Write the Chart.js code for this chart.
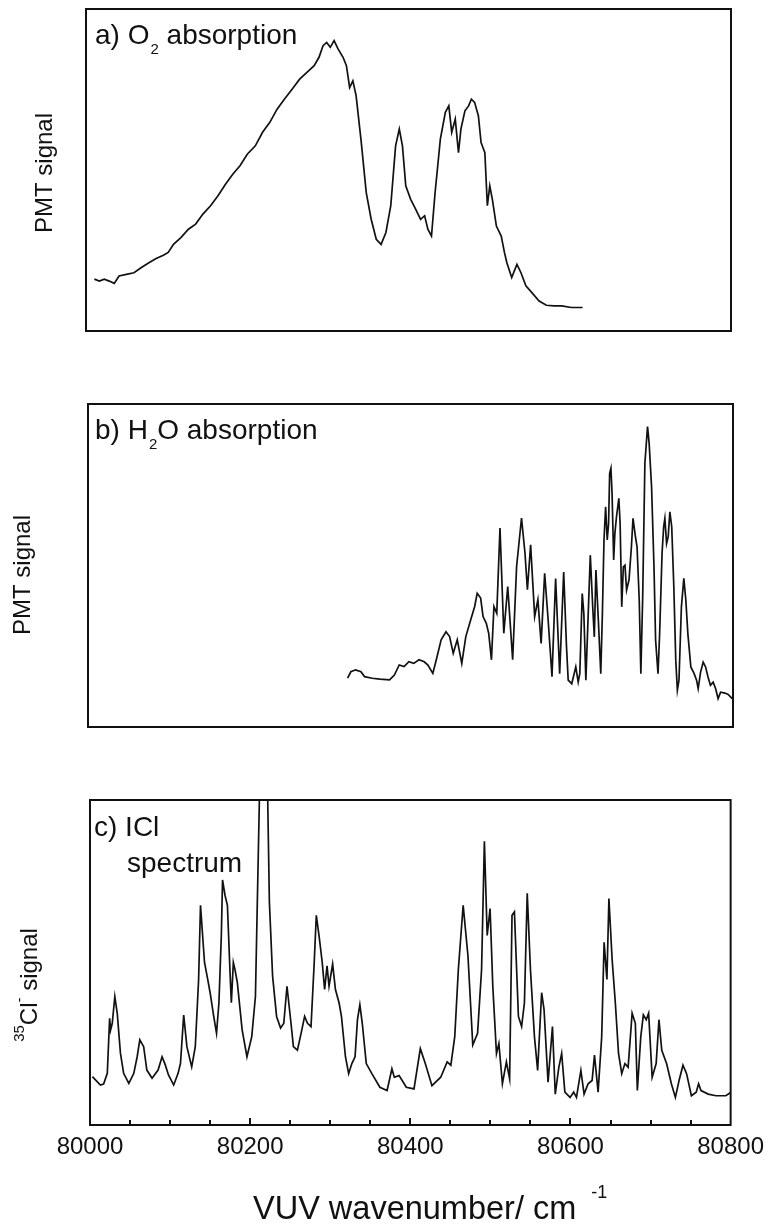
<!DOCTYPE html>
<html>
<head>
<meta charset="utf-8">
<script src="https://cdn.jsdelivr.net/npm/chart.js@4.4.1/dist/chart.umd.min.js"></script>
<style>
  html, body { margin: 0; padding: 0; background: #ffffff; }
  #wrap { position: relative; width: 772px; height: 1229px; overflow: hidden; background: #fff; }
  canvas { position: absolute; left: 0; }
</style>
</head>
<body>
<div id="wrap">
  <canvas id="ca" width="772" height="345" style="top:0px"></canvas>
  <canvas id="cb" width="772" height="360" style="top:380px"></canvas>
  <canvas id="cc" width="772" height="449" style="top:780px"></canvas>
</div>
<script>
// ---------------- data ----------------
const xMin = 80000;
const xMax = 80800;
const xTickValues = [80000, 80200, 80400, 80600, 80800];
const minorTickValues = [80050, 80100, 80150, 80200, 80250, 80300, 80350, 80400, 80450, 80500,
                         80550, 80600, 80650, 80700, 80750];

// a) O2 absorption
const o2X = [80010.4, 80016.6, 80022.7, 80028.8, 80035, 80041, 80050, 80059.5, 80068.7, 80078,
  80087, 80096, 80102, 80108.5, 80117.7, 80127, 80136, 80145, 80154.5, 80163.7,
  80173, 80182, 80191, 80200, 80210, 80219, 80228, 80237, 80246, 80255.6,
  80265, 80274, 80283, 80289, 80294, 80298.5, 80303, 80307.7, 80312.6, 80318.8,
  80323, 80327, 80331, 80335, 80341, 80347.6, 80353.7, 80360, 80366, 80372,
  80378, 80384, 80388.6, 80392.5, 80396.6, 80402.7, 80409, 80415, 80420, 80424,
  80428.5, 80433, 80439.5, 80445.7, 80450, 80453.6, 80458, 80462, 80465, 80470,
  80474.5, 80478, 80482, 80486.7, 80490, 80494.7, 80497.8, 80500.8, 80504, 80509,
  80515, 80519, 80522, 80528, 80534.5, 80539.5, 80545.6, 80553, 80562, 80571,
  80580.5, 80590, 80602, 80616];
const o2Y = [16.1, 15.5, 16.1, 15.5, 14.8, 17.1, 17.6, 18.1, 19.7, 21.2,
  22.5, 23.5, 24.4, 26.9, 29, 31.6, 33.2, 36.3, 38.9, 42,
  45.6, 48.7, 51.3, 54.9, 57.5, 61.7, 64.8, 68.9, 72, 75.1,
  78.2, 80.3, 82.4, 85, 88.6, 89.6, 88.1, 90.2, 87.6, 85,
  82.4, 75.6, 77.7, 73.1, 59.6, 43, 34.7, 28.5, 26.9, 30.6,
  38.9, 57.5, 62.7, 57.5, 45.1, 40.9, 37.8, 34.7, 35.8, 31.6,
  29.5, 43, 59.6, 67.9, 69.9, 61.7, 65.8, 55.4, 62.7, 68.4,
  69.9, 72, 71, 66.8, 58.5, 55.4, 38.9, 45.1, 40.9, 32.6,
  29.5, 24.4, 21.2, 16.6, 20.7, 18.1, 14, 11.9, 9.3, 8,
  7.8, 7.8, 7.3, 7.3];

// b) H2O absorption
const h2oX = [80322, 80326, 80332, 80338.5, 80343, 80352.5, 80362, 80374, 80380, 80386,
  80392, 80398, 80404, 80410.6, 80417, 80421.6, 80427.7, 80432, 80438, 80444,
  80448.5, 80453, 80458, 80463.6, 80468.6, 80474.7, 80479.6, 80482.7, 80487, 80490,
  80494, 80497, 80500.4, 80503.5, 80507, 80511, 80515.7, 80520.6, 80526.7, 80531.6,
  80537.7, 80542, 80545, 80549, 80554, 80558, 80562, 80566.4, 80570.7, 80575.5,
  80580, 80585, 80590, 80593.5, 80595.6, 80600, 80605, 80608, 80610, 80613,
  80615, 80617.5, 80620, 80623, 80626, 80628, 80630, 80633, 80636, 80638,
  80640, 80642, 80644, 80645.7, 80647, 80648.6, 80650, 80652, 80653.5, 80655.5,
  80658.4, 80660, 80662, 80664, 80666, 80668, 80671, 80674, 80676, 80679,
  80681, 80683.7, 80685.7, 80688, 80690.7, 80694, 80696, 80699, 80702, 80704,
  80707, 80709, 80712, 80714, 80715.5, 80717.6, 80719.6, 80721.7, 80724, 80726.6,
  80729, 80731, 80733, 80736, 80739, 80741.5, 80744, 80747.7, 80751.8, 80754.8,
  80756.8, 80759.8, 80763, 80766, 80769, 80772, 80775.4, 80778.4, 80781.5, 80784.6,
  80790, 80794, 80799];
const h2oY = [15.1, 17.1, 17.7, 17.1, 15.6, 15.1, 14.8, 14.6, 16.1, 19.2,
  18.7, 20.2, 19.7, 20.8, 20.2, 19.2, 16.6, 20.8, 27, 29.5,
  28, 22.8, 27, 19.7, 28, 33.2, 37.3, 41.4, 39.9, 34.2,
  32.1, 29, 20.8, 37.3, 35.2, 61.6, 29, 43.5, 20.8, 49.7,
  64.7, 53.8, 42.5, 56.4, 34.2, 39.4, 25.9, 47.6, 33.2, 15.6,
  46, 16.5, 48, 24.8, 14.5, 13.4, 18.6, 13.9, 16.6, 41.3,
  35.1, 14.5, 32, 53.2, 37.2, 27.9, 48.6, 33, 16.5, 35.1,
  57.9, 68.2, 57.9, 63, 78.5, 80.1, 72.3, 51.7, 59.9, 65.1,
  70.8, 63, 37.2, 49.6, 50.1, 42.4, 45.5, 55.8, 64.6, 58.9,
  55.8, 39.3, 16.5, 40.3, 81.6, 93, 87.8, 74.4, 49.6, 26.9,
  16.5, 28.9, 53.7, 62, 64.6, 56.8, 58.9, 66.6, 62, 43.4,
  20.7, 11.4, 14.5, 37.2, 46, 39.3, 28.9, 18.6, 16.5, 14.5,
  11.9, 17, 20.1, 18.6, 15.5, 12.9, 13.9, 11.9, 8.8, 10.8,
  10.5, 10.1, 8.8];

// c) ICl spectrum (35Cl- signal)
const iclX = [80003, 80013, 80017, 80021.6, 80024.5, 80025.7, 80027.8, 80031, 80034, 80038,
  80042, 80048.5, 80054.7, 80058.9, 80062.2, 80067, 80071, 80077.5, 80085, 80090,
  80094, 80098, 80104.5, 80110, 80113, 80117, 80121, 80127, 80131.5, 80135.6,
  80138, 80143, 80147, 80150, 80154.5, 80158, 80161, 80164, 80165.5, 80168.6,
  80171.6, 80174.7, 80176.5, 80179, 80181, 80184, 80190, 80196, 80202, 80206.6,
  80211.5, 80213, 80220, 80222, 80224, 80228, 80233, 80238, 80242, 80246,
  80251, 80254, 80259, 80263.6, 80268, 80271.6, 80276, 80280, 80282.6, 80286,
  80290, 80293, 80296, 80298.5, 80303, 80306.5, 80311, 80314, 80319, 80323,
  80327, 80331, 80334, 80337, 80340, 80345, 80352, 80362, 80371, 80377,
  80380, 80386, 80395, 80404.6, 80412.5, 80418.7, 80427, 80438, 80446, 80450.6,
  80455.5, 80460, 80466, 80472, 80478, 80484, 80489, 80492.5, 80496, 80499.6,
  80503, 80507.6, 80510.6, 80515, 80520, 80524, 80527, 80530, 80535, 80539,
  80542.5, 80546, 80550, 80555, 80559, 80564, 80567, 80572, 80577.5, 80581,
  80585.5, 80589, 80593, 80599.5, 80604, 80607.5, 80613, 80617, 80622, 80627,
  80630, 80634.5, 80639, 80642, 80645.5, 80648, 80652, 80656, 80660, 80664,
  80668, 80672, 80677, 80681, 80683.5, 80687.8, 80691, 80694.6, 80697.6, 80702,
  80707, 80710.5, 80714, 80720, 80726, 80731, 80735.6, 80740.5, 80745, 80751,
  80757, 80760, 80763, 80772, 80781.6, 80794, 80800];
const iclY = [14.9, 12.3, 12.6, 15.9, 32.8, 29.2, 31.3, 39.5, 34.4, 22.1,
  15.9, 12.8, 15.9, 21, 26.2, 24.1, 16.9, 14.4, 16.9, 21,
  18.5, 15.4, 12.3, 15.9, 19, 33.8, 24.1, 17.9, 24.1, 44.6,
  67.6, 50, 44.8, 40.7, 33.4, 28.2, 37.6, 58.3, 75.4, 70.7,
  67.6, 47.9, 37.6, 50, 47.9, 43.8, 29.3, 21, 27.2, 39.6,
  99.8, 135, 135, 99, 68.7, 45.9, 33.4, 29.8, 31.3, 42.7,
  31.3, 24.1, 23, 28.2, 33.4, 31.3, 30.3, 50, 64.5, 58.3,
  50, 41.7, 49, 42.7, 49.5, 41.7, 37.6, 33.4, 21, 15.8,
  18.9, 21, 32.4, 37, 31.3, 18.9, 15.8, 11.6, 10.6, 17.3,
  14.7, 15.2, 11.6, 11.1, 23.5, 18.9, 12.1, 14.7, 19.4, 18.4,
  27.2, 47.9, 67.6, 52, 24.6, 28.2, 47.9, 87.3, 58.3, 66.6,
  42.7, 22, 25.1, 12.7, 19.4, 14.2, 64.5, 65.6, 33.4, 30.3,
  37.6, 71.3, 47.9, 27.2, 16.8, 40.7, 35.5, 13.2, 30.3, 9.5,
  17.8, 22, 10.1, 8.5, 10.1, 8.5, 16.8, 9.5, 12.7, 13.7,
  21.5, 10.1, 27.2, 56.2, 44.8, 69.7, 51, 37.6, 22, 15.8,
  18.9, 17.8, 34.4, 31.3, 10.6, 27.2, 33.9, 32.4, 34.4, 14.7,
  18.9, 32.4, 23, 18.9, 12.7, 8.5, 13.7, 18.4, 15.8, 9,
  10.1, 12.7, 10.6, 9.5, 9, 9, 10];

// text
const xTitle = 'VUV wavenumber/ cm';
const xTitleSup = '-1';

// ---------------- helpers ----------------
const FAMILY = '"Liberation Sans", Arial, Helvetica, sans-serif';
const INK = '#111111';

function toPoints(xs, ys) { return xs.map((x, i) => ({ x: x, y: ys[i] })); }

// draw a sequence of text runs: {t, size, dy, dx}
function drawRuns(ctx, x, y, runs, rotate, centerAlign) {
  ctx.save();
  ctx.translate(x, y);
  if (rotate) ctx.rotate(-Math.PI / 2);
  ctx.textBaseline = 'alphabetic';
  ctx.textAlign = 'left';
  ctx.fillStyle = INK;
  let total = 0;
  runs.forEach(r => { ctx.font = r.size + 'px ' + FAMILY; total += (r.dx || 0) + ctx.measureText(r.t).width; });
  let cx = centerAlign ? -total / 2 : 0;
  runs.forEach(r => {
    ctx.font = r.size + 'px ' + FAMILY;
    cx += (r.dx || 0);
    ctx.fillText(r.t, cx, r.dy || 0);
    cx += ctx.measureText(r.t).width;
  });
  ctx.restore();
}

const decoPlugin = {
  id: 'deco',
  afterDraw(chart, args, opts) {
    const ctx = chart.ctx;
    const a = chart.chartArea;
    ctx.save();
    ctx.strokeStyle = INK;
    ctx.lineWidth = 2;
    ctx.strokeRect(a.left, a.top, a.right - a.left, a.bottom - a.top);
    if (opts.minorTicks) {
      const xs = chart.scales.x;
      ctx.lineWidth = 2;
      opts.minorTicks.forEach(v => {
        const px = Math.round(xs.getPixelForValue(v));
        const h = (v % 200 === 0) ? 7 : 5;
        ctx.beginPath();
        ctx.moveTo(px, a.bottom);
        ctx.lineTo(px, a.bottom - h);
        ctx.stroke();
      });
    }
    (opts.texts || []).forEach(t => {
      const x = t.fromLeft !== undefined ? a.left + t.fromLeft : t.x;
      const y = t.fromTop !== undefined ? a.top + t.fromTop : t.y;
      drawRuns(ctx, x, y, t.runs, t.rotate, t.center);
    });
    ctx.restore();
  }
};

function lineDataset(xs, ys) {
  return {
    data: toPoints(xs, ys),
    borderColor: INK,
    borderWidth: 1.7,
    pointRadius: 0,
    tension: 0,
    fill: false,
    clip: 0
  };
}

function baseOptions(padding, deco, xDisplay) {
  const xScale = {
    type: 'linear', min: xMin, max: xMax,
    display: xDisplay,
    afterBuildTicks: (s) => { s.ticks = xTickValues.map(v => ({ value: v })); },
    ticks: {
      autoSkip: false, maxRotation: 0, minRotation: 0, padding: 8,
      color: INK, font: { family: FAMILY, size: 24 },
      callback: (v) => String(v)
    },
    grid: { display: false, drawTicks: false },
    border: { display: false }
  };
  if (xDisplay) { xScale.afterFit = (s) => { s.height = 104; }; }
  return {
    responsive: false,
    animation: false,
    events: [],
    layout: { padding: padding },
    plugins: { legend: { display: false }, tooltip: { enabled: false }, deco: deco },
    scales: {
      x: xScale,
      y: { type: 'linear', min: 0, max: 100, display: false }
    }
  };
}

// ---------------- panel a ----------------
new Chart(document.getElementById('ca'), {
  type: 'line',
  data: { datasets: [lineDataset(o2X, o2Y)] },
  plugins: [decoPlugin],
  options: baseOptions({ left: 86, right: 41, top: 9, bottom: 14 }, {
    texts: [
      { fromLeft: 9, fromTop: 35, runs: [
        { t: 'a) O', size: 28 }, { t: '2', size: 15, dy: 10, dx: 1 }, { t: ' absorption', size: 28 } ] },
      { x: 52, y: 173, rotate: true, center: true, runs: [ { t: 'PMT signal', size: 24 } ] }
    ]
  }, false)
});

// ---------------- panel b ----------------
new Chart(document.getElementById('cb'), {
  type: 'line',
  data: { datasets: [lineDataset(h2oX, h2oY)] },
  plugins: [decoPlugin],
  options: baseOptions({ left: 88, right: 39, top: 24, bottom: 13 }, {
    texts: [
      { fromLeft: 7, fromTop: 35, runs: [
        { t: 'b) H', size: 28 }, { t: '2', size: 15, dy: 10, dx: 1 }, { t: 'O absorption', size: 28 } ] },
      { x: 30, y: 195, rotate: true, center: true, runs: [ { t: 'PMT signal', size: 24 } ] }
    ]
  }, false)
});

// ---------------- panel c ----------------
new Chart(document.getElementById('cc'), {
  type: 'line',
  data: { datasets: [lineDataset(iclX, iclY)] },
  plugins: [decoPlugin],
  options: baseOptions({ left: 90, right: 38, top: 20, bottom: 0 }, {
    minorTicks: minorTickValues,
    texts: [
      { fromLeft: 4, fromTop: 36, runs: [ { t: 'c) ICl', size: 28 } ] },
      { fromLeft: 37, fromTop: 72, runs: [ { t: 'spectrum', size: 28 } ] },
      { x: 37, y: 205, rotate: true, center: true, runs: [
        { t: '35', size: 15, dy: -13 }, { t: 'Cl', size: 24 }, { t: '-', size: 15, dy: -13 },
        { t: ' signal', size: 24 } ] },
      { x: 253, y: 439, runs: [ { t: xTitle, size: 32.5 }, { t: xTitleSup, size: 18, dy: -21, dx: 15 } ] }
    ]
  }, true)
});
</script>
</body>
</html>
